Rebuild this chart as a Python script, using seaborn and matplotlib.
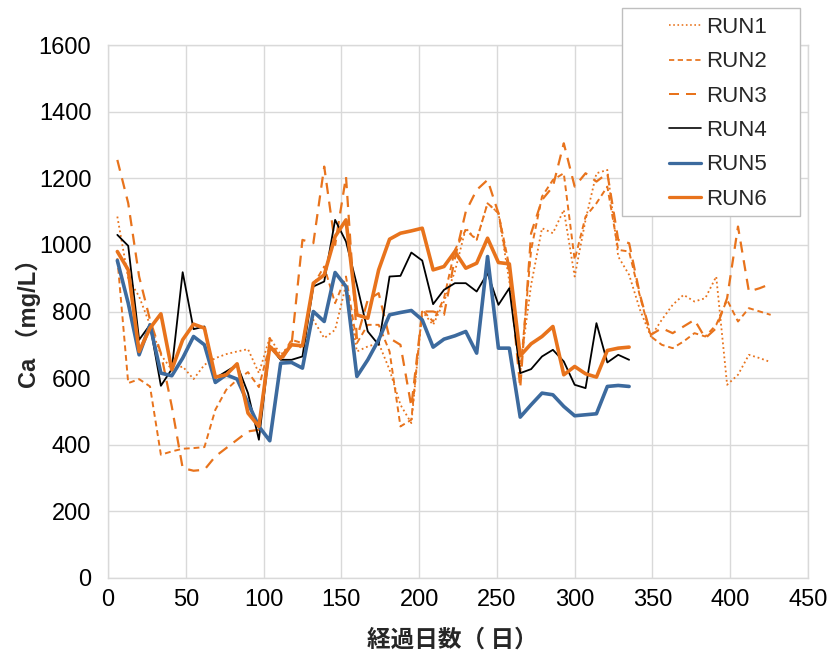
import numpy as np
import pandas as pd
import seaborn as sns
import matplotlib
matplotlib.use("Agg")
import matplotlib.pyplot as plt
from matplotlib.patches import Rectangle
from matplotlib.lines import Line2D

# ---------------- data ----------------
days_long = [6 + 7 * i for i in range(61)]    # RUN1-3
days_short = [6 + 7 * i for i in range(48)]   # RUN4-6

run1 = [1085, 900, 845, 760, 670, 625, 635, 597, 640, 660, 672, 680, 687, 615, 722,
        670, 705, 690, 775, 720, 745, 880, 680, 695, 705, 625, 520, 465, 800, 760,
        830, 920, 1050, 1015, 1125, 1095, 890, 630, 880, 1050, 1035, 1105, 905, 1075, 1215,
        1225, 965, 910, 805, 725, 775, 820, 850, 830, 840, 905, 580, 610, 670, 660, 648]
run2 = [960, 585, 597, 575, 370, 380, 388, 390, 393, 505, 565, 595, 618, 573, 700,
        660, 715, 705, 880, 935, 825, 905, 705, 760, 760, 680, 455, 475, 805, 770,
        840, 985, 1045, 1015, 1125, 1095, 935, 615, 985, 1145, 1195, 1215, 955, 1085, 1125,
        1175, 985, 980, 845, 725, 700, 690, 710, 735, 725, 760, 835, 770, 810, 800, 790]
run3 = [1255, 1125, 905, 775, 675, 515, 330, 322, 325, 365, 390, 415, 440, 445, 720,
        650, 700, 1015, 1005, 1235, 1000, 1205, 720, 835, 855, 720, 700, 515, 800, 800,
        790, 960, 1100, 1165, 1195, 1095, 915, 570, 1035, 1135, 1175, 1305, 1175, 1215, 1190,
        1215, 1015, 1005, 850, 730, 750, 735, 755, 775, 720, 750, 840, 1055, 860, 870, 883]
run4 = [1030, 997, 715, 760, 577, 627, 918, 747, 755, 600, 620, 640, 555, 415, 695,
        655, 655, 665, 875, 890, 1075, 1010, 880, 740, 700, 905, 907, 977, 953, 822,
        865, 885, 885, 860, 915, 820, 870, 615, 627, 665, 685, 650, 580, 570, 765,
        647, 670, 655]
run5 = [953, 825, 670, 760, 615, 607, 660, 725, 700, 587, 610, 597, 525, 455, 412,
        645, 647, 630, 800, 770, 917, 875, 605, 655, 715, 790, 797, 803, 775, 693,
        717, 727, 740, 675, 965, 690, 690, 483, 520, 555, 550, 515, 487, 490, 493,
        575, 578, 575]
run6 = [980, 925, 680, 750, 793, 625, 715, 762, 750, 603, 610, 643, 495, 455, 695,
        660, 700, 697, 885, 910, 1025, 1075, 790, 780, 925, 1017, 1035, 1042, 1050, 925,
        935, 980, 930, 945, 1020, 947, 943, 667, 703, 725, 755, 610, 635, 613, 603,
        683, 690, 693]

labels = ["RUN1", "RUN2", "RUN3", "RUN4", "RUN5", "RUN6"]
x_ticks = [0, 50, 100, 150, 200, 250, 300, 350, 400, 450]
y_ticks = [0, 200, 400, 600, 800, 1000, 1200, 1400, 1600]

# ---------------- style ----------------
ORANGE = "#E8731C"
BLUE = "#3C6A9E"
styles = {
    "RUN1": dict(color=ORANGE, lw=1.3, ls=(0, (1, 1.6))),
    "RUN2": dict(color=ORANGE, lw=1.4, ls=(0, (3, 2))),
    "RUN3": dict(color=ORANGE, lw=1.6, ls=(0, (5, 3.5))),
    "RUN4": dict(color="black", lw=1.3, ls="-"),
    "RUN5": dict(color=BLUE, lw=2.6, ls="-"),
    "RUN6": dict(color=ORANGE, lw=2.6, ls="-"),
}

sns.set_theme(style="white")
plt.rcParams["font.family"] = ["Liberation Sans", "Noto Sans CJK JP", "DejaVu Sans"]

fig = plt.figure(figsize=(8.31, 6.55), dpi=100)
ax = fig.add_axes([108 / 831, 1 - 578 / 655, 700 / 831, 533 / 655])

series = {
    "RUN1": (days_long, run1), "RUN2": (days_long, run2), "RUN3": (days_long, run3),
    "RUN4": (days_short, run4), "RUN5": (days_short, run5), "RUN6": (days_short, run6),
}
for name in labels:
    d, v = series[name]
    df = pd.DataFrame({"day": d, "val": v})
    st = styles[name]
    sns.lineplot(data=df, x="day", y="val", ax=ax, color=st["color"],
                 linewidth=st["lw"], linestyle=st["ls"], estimator=None, sort=False)

ax.set_xlim(0, 450)
ax.set_ylim(0, 1600)
ax.set_xticks(x_ticks)
ax.set_yticks(y_ticks)
ax.grid(True, color="#D9D9D9", linewidth=1.0)
for s in ax.spines.values():
    s.set_color("#D9D9D9")
    s.set_linewidth(1.0)
ax.tick_params(axis="both", length=0, labelsize=17, colors="black")
ax.tick_params(axis="x", pad=8)
ax.tick_params(axis="y", pad=12)
ax.set_xlabel("")
ax.set_ylabel("")

fig.text(452 / 831, 1 - 640 / 655, "経過日数（ 日）", ha="center", va="center",
         fontsize=17, fontweight="bold", family=["Noto Sans CJK JP"])
fig.text(28 / 831, 1 - 318 / 655, "Ca （mg/L）", ha="center", va="center",
         rotation=90, fontsize=17, fontweight="bold",
         family=["Liberation Sans", "Noto Sans CJK JP"])

# legend box
rect = Rectangle((622 / 831, 1 - 216 / 655), 178 / 831, 208 / 655,
                 transform=fig.transFigure, facecolor="white",
                 edgecolor="#BFBFBF", linewidth=1.0, zorder=3)
fig.add_artist(rect)
handles = [Line2D([], [], color=styles[n]["color"], lw=styles[n]["lw"] * 0.9,
                  ls=styles[n]["ls"]) for n in labels]
leg = fig.legend(handles, labels, loc="upper left",
                 bbox_to_anchor=(669 / 831, 1 - 17 / 655), frameon=False,
                 fontsize=16, handlelength=1.45, handletextpad=0.22,
                 labelspacing=0.6, borderpad=0, borderaxespad=0)
leg.set_zorder(5)

fig.savefig("out.png", dpi=100)
